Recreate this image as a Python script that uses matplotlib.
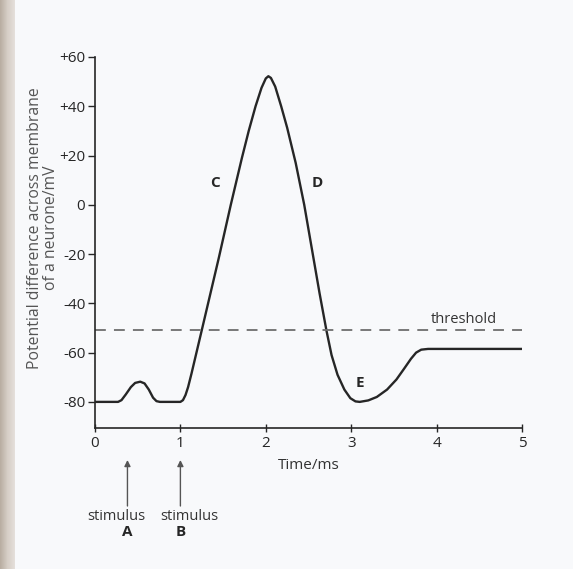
import numpy as np
import matplotlib.pyplot as plt
from matplotlib.colors import LinearSegmentedColormap

plt.rcParams["font.family"] = ["Open Sans", "DejaVu Sans"]
plt.rcParams["axes.unicode_minus"] = False

# ===== data =====
time_ms = [0.00, 0.27, 0.31, 0.36, 0.42, 0.47, 0.53, 0.58, 0.63, 0.68, 0.72, 0.76,
           1.00, 1.03, 1.06, 1.09, 1.13, 1.27, 1.45, 1.59, 1.72, 1.80,
           1.88, 1.95, 2.00, 2.03, 2.06, 2.11, 2.18, 2.25, 2.35, 2.45, 2.55, 2.63,
           2.71, 2.77, 2.84, 2.92, 2.99, 3.05, 3.10, 3.20, 3.30, 3.42, 3.53, 3.62,
           3.70, 3.76, 3.82, 3.90, 5.00]
potential_mv = [-80.0, -80.0, -79.3, -77.0, -74.0, -72.3, -71.8, -72.5, -75.0, -78.3, -79.7, -80.0,
                -80.0, -79.3, -77.2, -74.0, -68.5, -48.0, -21.5, 0.0, 19.0, 30.0,
                40.0, 47.5, 51.3, 52.2, 51.5, 48.0, 40.0, 31.3, 17.0, 0.0, -20.0, -36.0,
                -51.0, -61.0, -69.0, -75.0, -78.5, -79.8, -80.0, -79.4, -78.0, -75.0, -70.9, -66.5,
                -62.5, -60.0, -58.8, -58.5, -58.5]

threshold_mv = -51
y_ticks = [-80, -60, -40, -20, 0, 20, 40, 60]
y_ticklabels = ["-80", "-60", "-40", "-20", "0", "+20", "+40", "+60"]
x_ticks = [0, 1, 2, 3, 4, 5]

stimulus_times = [0.38, 1.0]
stimulus_names = ["A", "B"]
stimulus_text_shift = [-0.13, 0.11]   # "stimulus" words sit a little off the arrows

point_labels = ["C", "D", "E"]
point_x = [1.41, 2.60, 3.10]
point_y = [9.0, 9.0, -72.5]

# ===== figure =====
W, H = 573, 569
fig = plt.figure(figsize=(W / 100, H / 100), dpi=100)
fig.patch.set_facecolor("#f8f9fb")

# scanned page edge on the left
edge = fig.add_axes([0, 0, 15 / W, 1])
edge_cmap = LinearSegmentedColormap.from_list("edge", ["#b9aea2", "#d6cec6", "#e4dfda"])
edge.imshow(np.linspace(0, 1, 15).reshape(1, -1), aspect="auto", cmap=edge_cmap,
            extent=[0, 1, 0, 1])
edge.axis("off")

ax = fig.add_axes([95 / W, 1 - 428 / H, 427 / W, 371 / H])
ax.set_facecolor("none")

ink = "#262626"
ax.plot(time_ms, potential_mv, color=ink, lw=1.7, solid_capstyle="round",
        solid_joinstyle="round")
ax.axhline(threshold_mv, color="#6e6e6e", lw=1.3, dashes=(6, 4.5))
ax.text(4.32, threshold_mv + 1.5, "threshold", ha="center", va="bottom",
        fontsize=10.5, color="#333333")

for lab, x, y in zip(point_labels, point_x, point_y):
    ax.text(x, y, lab, ha="center", va="center", fontsize=11,
            fontweight="bold", color=ink)

ax.set_xlim(0, 5)
ax.set_ylim(-90.6, 60)
ax.set_xticks(x_ticks)
ax.set_yticks(y_ticks)
ax.set_yticklabels(y_ticklabels)
ax.tick_params(axis="y", direction="out", length=5, width=1, colors=ink,
               labelsize=11, pad=2)
ax.tick_params(axis="x", direction="inout", length=6, width=1, colors=ink,
               labelsize=11, pad=3)
for side in ["top", "right"]:
    ax.spines[side].set_visible(False)
for side in ["left", "bottom"]:
    ax.spines[side].set_color(ink)
    ax.spines[side].set_linewidth(1.2)

ax.set_xlabel("Time/ms", fontsize=11, color="#333333", labelpad=5)
fig.text(43 / W, 1 - 228 / H,
         "Potential difference across membrane\nof a neurone/mV",
         rotation=90, ha="center", va="center", fontsize=11.3,
         color="#555555", linespacing=0.95)

# stimulus arrows below the axis
trans = ax.get_xaxis_transform()
for t, name, dx in zip(stimulus_times, stimulus_names, stimulus_text_shift):
    ax.annotate("", xy=(t, (428 - 460) / 371), xytext=(t, (428 - 506) / 371),
                xycoords=trans, textcoords=trans,
                arrowprops=dict(arrowstyle="-|>", color="#555555", lw=1.0,
                                mutation_scale=9, shrinkA=0, shrinkB=0))
    ax.text(t + dx, (428 - 516) / 371, "stimulus", transform=trans, ha="center",
            va="center", fontsize=10.5, color="#333333", clip_on=False)
    ax.text(t, (428 - 532) / 371, name, transform=trans, ha="center",
            va="center", fontsize=11, fontweight="bold", color=ink,
            clip_on=False)

fig.savefig("out.png", dpi=100, facecolor=fig.get_facecolor())
